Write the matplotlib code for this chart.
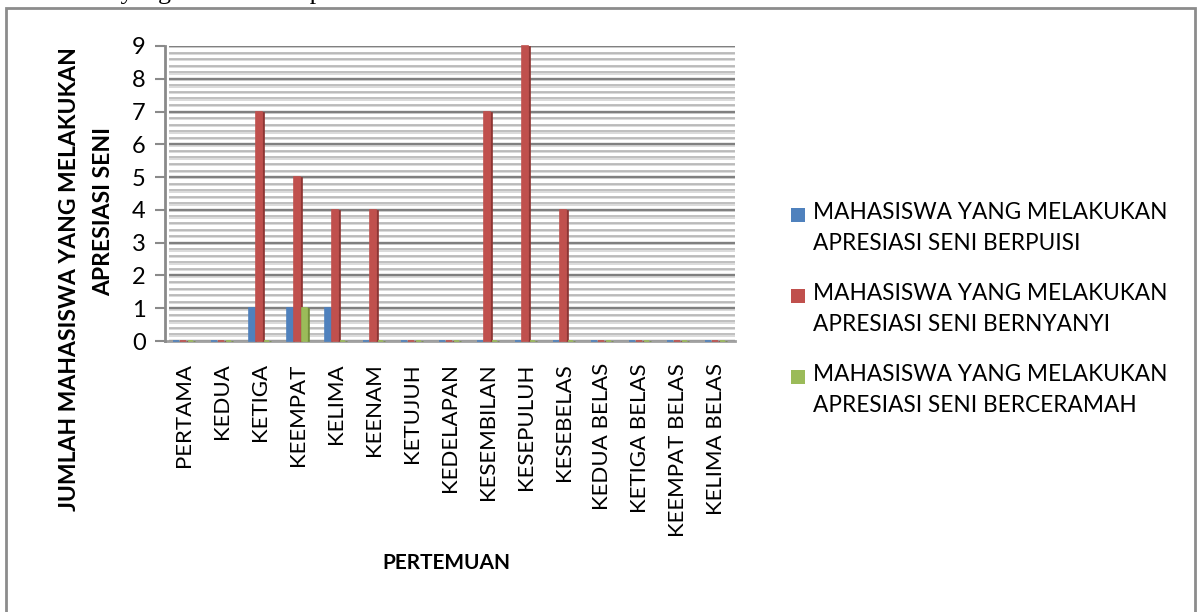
import matplotlib
matplotlib.use("Agg")
import matplotlib.pyplot as plt
from matplotlib.patches import Rectangle
import numpy as np

# data
pertemuan = ["PERTAMA", "KEDUA", "KETIGA", "KEEMPAT", "KELIMA", "KEENAM",
             "KETUJUH", "KEDELAPAN", "KESEMBILAN", "KESEPULUH", "KESEBELAS",
             "KEDUA BELAS", "KETIGA BELAS", "KEEMPAT BELAS", "KELIMA BELAS"]
berpuisi = [0, 0, 1, 1, 1, 0, 0, 0, 0, 0, 0, 0, 0, 0, 0]
bernyanyi = [0, 0, 7, 5, 4, 4, 0, 0, 7, 9, 4, 0, 0, 0, 0]
berceramah = [0, 0, 0, 1, 0, 0, 0, 0, 0, 0, 0, 0, 0, 0, 0]
series_names = ["MAHASISWA YANG MELAKUKAN\nAPRESIASI SENI BERPUISI",
                "MAHASISWA YANG MELAKUKAN\nAPRESIASI SENI BERNYANYI",
                "MAHASISWA YANG MELAKUKAN\nAPRESIASI SENI BERCERAMAH"]

colors = ["#4F81BD", "#C0504D", "#9BBB59"]
dark = ["#36608F", "#8E3533", "#738F3B"]

plt.rcParams["font.family"] = ["Lato", "DejaVu Sans"]

W, H = 1200, 612
fig = plt.figure(figsize=(12, 6.12), dpi=100)


def px(x, y):
    return x / W, 1 - y / H


# outer chart frame
fig.patches.append(Rectangle(px(6, 660), 1189 / W, 652 / H, transform=fig.transFigure,
                             fill=False, edgecolor="#8c8c8c", linewidth=2))
# line of the page above the chart, cut by the crop (only descenders show)
fig.text(0, 1 - 3.5 / H, "mahasiswa yang melakukan apresiasi", family="Liberation Serif",
         fontsize=18.7, va="bottom", ha="left", color="black")

l, t, r, b = 165, 46, 735, 341
ax = fig.add_axes([l / W, 1 - b / H, (r - l) / W, (b - t) / H])
ax.set_xlim(0, len(pertemuan))
ax.set_ylim(0, 9)

# back wall gridlines with shadow
minor = np.arange(0, 9.01, 0.2)
major = np.arange(0, 10, 1)
ax.hlines(minor - 0.04, 0.1, len(pertemuan), color="#d4d4d4", lw=1.2, zorder=1)
ax.hlines(minor, 0.1, len(pertemuan), color="#b4b4b4", lw=1.2, zorder=1)
ax.hlines(major, 0.1, len(pertemuan), color="#808080", lw=1.7, zorder=1)

x = np.arange(len(pertemuan)) + 0.5
bw = 0.15
sw = 0.045
for k, vals in enumerate([berpuisi, bernyanyi, berceramah]):
    xs = x + (k - 1) * 0.19
    ax.bar(xs - sw / 2, vals, width=bw, color=colors[k], edgecolor=colors[k],
           linewidth=1.2, zorder=4, clip_on=False)
    ax.bar(xs + bw / 2, vals, width=sw, color=dark[k], edgecolor=dark[k],
           linewidth=0.5, zorder=3, clip_on=False)

ax.set_yticks(range(10))
ax.set_xticks(x)
ax.set_xticklabels(pertemuan, rotation=90, fontsize=16)
ax.tick_params(axis="x", length=0, pad=16)
ax.tick_params(axis="y", length=7, width=1.5, color="#8a8a8a", labelsize=17, pad=7)
for s in ["top", "right"]:
    ax.spines[s].set_visible(False)
ax.spines["left"].set_color("#8a8a8a")
ax.spines["left"].set_linewidth(2)
ax.spines["bottom"].set_color("#a0a0a0")
ax.spines["bottom"].set_linewidth(2)
ax.spines["bottom"].set_zorder(2)
ax.set_facecolor("none")

fig.text(446 / W, 1 - 563 / H, "PERTEMUAN", fontsize=15, fontweight="bold",
         ha="center", va="center")
# y axis title, two lines placed as in the reference
fig.text(70 / W, 1 - 279 / H, "JUMLAH MAHASISWA YANG MELAKUKAN",
         fontsize=16.5, fontweight="bold", rotation=90, ha="center", va="center")
fig.text(104 / W, 1 - 212 / H, "APRESIASI SENI",
         fontsize=16.5, fontweight="bold", rotation=90, ha="center", va="center")

# legend
for k, name in enumerate(series_names):
    y0 = 215 + k * 81
    fig.patches.append(Rectangle(px(791, y0 + 7), 14 / W, 14 / H, transform=fig.transFigure,
                                 facecolor=colors[k], edgecolor="none"))
    fig.text(813 / W, 1 - (y0 - 13) / H, name, fontsize=16.3, ha="left", va="top",
             linespacing=1.6)

fig.savefig("out.png", dpi=100)
